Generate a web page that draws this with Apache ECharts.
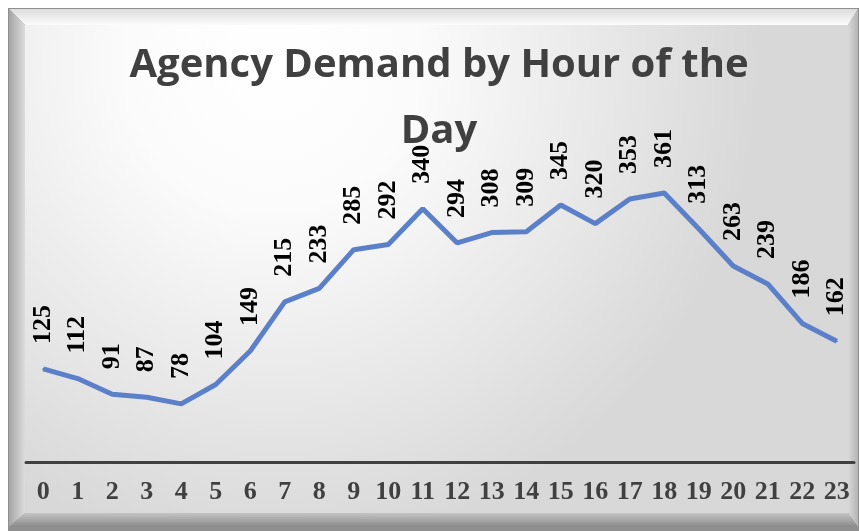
<!DOCTYPE html>
<html>
<head>
<meta charset="utf-8">
<title>Agency Demand by Hour of the Day</title>
<script src="https://cdn.jsdelivr.net/npm/echarts@6/dist/echarts.min.js"></script>
<style>
  html, body { margin: 0; padding: 0; background: #fff; }
  #chart { width: 859px; height: 531px; }
</style>
</head>
<body>
<div id="chart"></div>
<script>
// hours of the day
var hours = ['0', '1', '2', '3', '4', '5', '6', '7', '8', '9', '10', '11',
  '12', '13', '14', '15', '16', '17', '18', '19', '20', '21', '22', '23']
// demand per hour
var demand = [125, 112, 91, 87, 78, 104, 149, 215, 233, 285, 292, 340,
  294, 308, 309, 345, 320, 353, 361, 313, 263, 239, 186, 162]

var chart = echarts.init(document.getElementById('chart'))

var option = {
  animation: false,
  // bevelled frame
  graphic: {
    elements: [
      {
        type: 'rect', z: -10,
        shape: { x: 8, y: 8, width: 851, height: 523 },
        style: { fill: '#8f8f8f' }
      },
      { // top bevel
        type: 'polygon', z: -9,
        shape: { points: [[9, 9], [858, 9], [848, 25], [25, 25]] },
        style: { fill: { type: 'linear', x: 0, y: 0, x2: 0, y2: 1, colorStops: [
          { offset: 0, color: '#dcdcdc' }, { offset: 1, color: '#fcfcfc' }] } }
      },
      { // left bevel
        type: 'polygon', z: -9,
        shape: { points: [[9, 9], [25, 25], [25, 513], [9, 527]] },
        style: { fill: { type: 'linear', x: 0, y: 0, x2: 1, y2: 0, colorStops: [
          { offset: 0, color: '#a4a4a4' }, { offset: 1, color: '#dcdcdc' }] } }
      },
      { // right bevel
        type: 'polygon', z: -9,
        shape: { points: [[858, 9], [848, 25], [848, 513], [858, 527]] },
        style: { fill: { type: 'linear', x: 0, y: 0, x2: 1, y2: 0, colorStops: [
          { offset: 0, color: '#d8d8d8' }, { offset: 1, color: '#b4b4b4' }] } }
      },
      { // bottom bevel
        type: 'polygon', z: -9,
        shape: { points: [[25, 513], [848, 513], [858, 527], [9, 527]] },
        style: { fill: { type: 'linear', x: 0, y: 0, x2: 0, y2: 1, colorStops: [
          { offset: 0, color: '#c4c4c4' }, { offset: 1, color: '#8a8a8a' }] } }
      },
      { // face
        type: 'rect', z: -8,
        shape: { x: 25, y: 25, width: 823, height: 488 },
        style: { fill: { type: 'radial', x: 0.3, y: 0.08, r: 1.0, colorStops: [
          { offset: 0, color: '#ffffff' }, { offset: 0.3, color: '#fbfbfb' },
          { offset: 1, color: '#d8d8d8' }] } }
      }
    ]
  },
  title: {
    text: 'Agency Demand by Hour of the\nDay',
    left: 434,
    top: 28,
    textAlign: 'center',
    textStyle: {
      fontFamily: 'Open Sans',
      fontWeight: 'bold',
      fontSize: 40,
      lineHeight: 66,
      color: '#404040'
    }
  },
  grid: {
    left: 26,
    right: 5,
    top: 164,
    bottom: 69
  },
  xAxis: {
    type: 'category',
    data: hours,
    boundaryGap: true,
    axisLine: { lineStyle: { color: '#404040', width: 3 } },
    axisTick: { show: false },
    axisLabel: {
      margin: 17,
      interval: 0,
      fontFamily: 'Liberation Serif',
      fontWeight: 'bold',
      fontSize: 26,
      color: '#404040'
    }
  },
  yAxis: {
    type: 'value',
    min: 0,
    max: 400,
    show: false,
    splitLine: { show: false }
  },
  series: [{
    name: 'Demand',
    type: 'line',
    data: demand,
    symbol: 'circle',
    symbolSize: 2,
    showSymbol: true,
    itemStyle: { color: '#5b80c9' },
    lineStyle: { color: '#5b80c9', width: 5 },
    label: {
      show: true,
      position: 'top',
      distance: 24,
      rotate: 90,
      align: 'left',
      verticalAlign: 'middle',
      fontFamily: 'Liberation Serif',
      fontWeight: 'bold',
      fontSize: 26,
      color: '#000'
    }
  }]
}

chart.setOption(option)
</script>
</body>
</html>
